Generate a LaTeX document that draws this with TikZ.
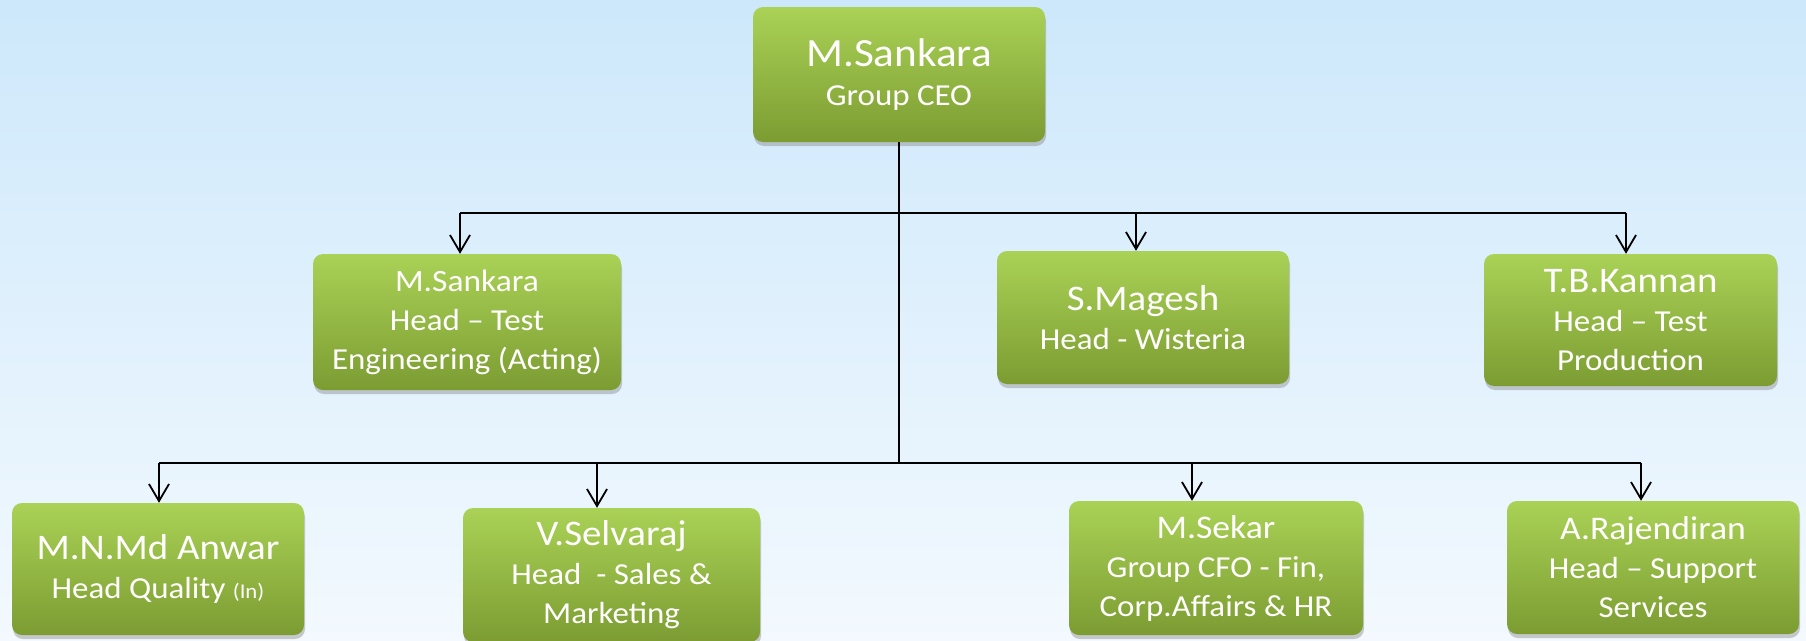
\documentclass[tikz,border=0pt]{standalone}
\usepackage{fontspec}
\setmainfont{Carlito}[FakeStretch=1.08]
\usetikzlibrary{arrows.meta,shadows}
\definecolor{bgtop}{RGB}{205,232,251}
\definecolor{bgbottom}{RGB}{243,249,254}
\definecolor{boxtop}{RGB}{170,210,86}
\definecolor{boxbottom}{RGB}{124,156,50}
\newcommand\staff[2][36]{{\fontsize{#1}{39}\selectfont #2}\\}
\begin{document}
\begin{tikzpicture}[x=1pt, y=-1pt,
        post/.style={rounded corners=10pt, top color=boxtop, bottom color=boxbottom,
            drop shadow={shadow xshift=1pt, shadow yshift=-4pt, opacity=0.4},
            text=white, align=center, inner sep=0pt, font=\fontsize{30.5}{39}\selectfont},
        link/.style={line width=1.8pt},
        down/.style={link, -{Straight Barb[length=17pt, width=20pt]}}]
    \fill[top color=bgtop, bottom color=bgbottom] (0,0) rectangle (1806,640);
    \useasboundingbox (0,0) rectangle (1806,640);

    \node[post, minimum width=292pt, minimum height=135pt] (ceo) at (899,74.5)
        {\staff[40]{M.Sankara} Group CEO};

    \node[post, minimum width=308pt, minimum height=136pt] (engg) at (467,322)
        {\staff[31]{M.Sankara} Head – Test\\Engineering (Acting)};
    \node[post, minimum width=292pt, minimum height=133pt] (magesh) at (1143,317.5)
        {\staff{S.Magesh} Head - Wisteria};
    \node[post, minimum width=293pt, minimum height=132pt] (kannan) at (1630.5,320)
        {\staff{T.B.Kannan} Head – Test\\Production};

    \node[post, minimum width=292pt, minimum height=132pt] (anwar) at (158,569)
        {\staff{M.N.Md Anwar} Head Quality {\fontsize{21}{39}\selectfont (In)}};
    \node[post, minimum width=297pt, minimum height=134pt] (selvaraj) at (611.5,575)
        {\staff{V.Selvaraj} Head\ \ - Sales \&\\Marketing};
    \node[post, minimum width=294pt, minimum height=134pt] (sekar) at (1216,568)
        {\staff[33]{M.Sekar} Group CFO - Fin,\\Corp.Affairs \& HR};
    \node[post, minimum width=292pt, minimum height=133pt] (rajendiran) at (1653,567.5)
        {\staff[33]{A.Rajendiran} Head – Support\\Services};

    % buses
    \coordinate (tier1) at (899,213);
    \coordinate (tier2) at (899,463);
    \draw[link] (ceo.south) -- (tier2);
    \draw[link] ([xshift=-7pt]engg.north |- tier1) -- ([xshift=-4.5pt]kannan.north |- tier1);
    \draw[link] ([xshift=1pt]anwar.north |- tier2) -- ([xshift=-12pt]rajendiran.north |- tier2);
    \foreach \who/\dx in {engg/-7pt, magesh/-7pt, kannan/-4.5pt}
        \draw[down] ([xshift=\dx]\who.north |- tier1) -- ([xshift=\dx]\who.north);
    \foreach \who/\dx in {anwar/1pt, selvaraj/-14.5pt, sekar/-24pt, rajendiran/-12pt}
        \draw[down] ([xshift=\dx]\who.north |- tier2) -- ([xshift=\dx]\who.north);
\end{tikzpicture}
\end{document}
